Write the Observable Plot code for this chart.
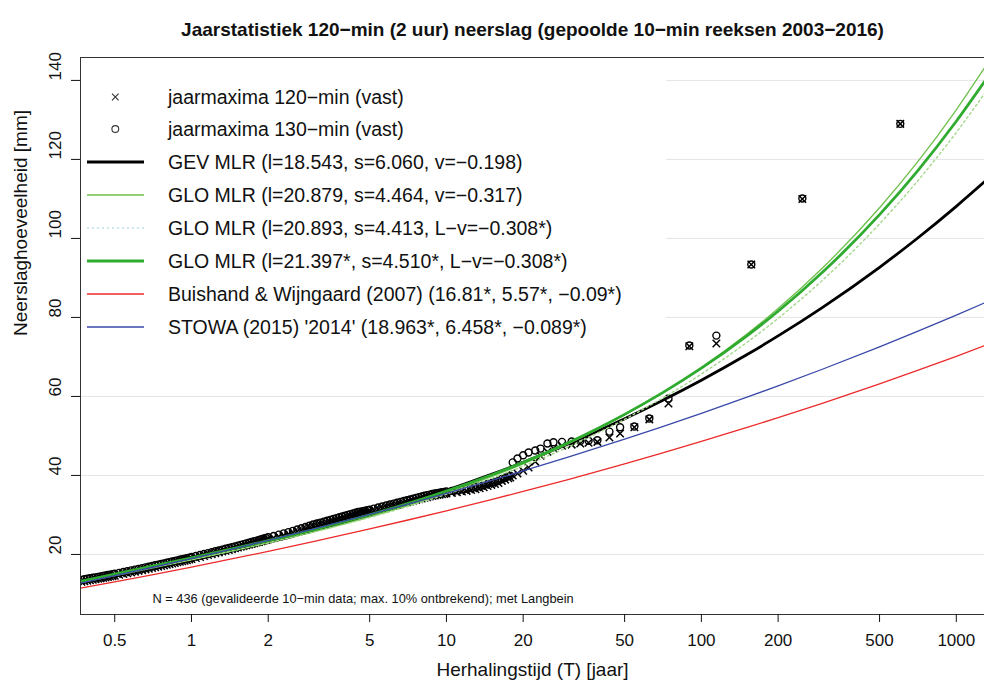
<!DOCTYPE html>
<html><head><meta charset="utf-8">
<script src="https://cdn.jsdelivr.net/npm/d3@7"></script>
<script src="https://cdn.jsdelivr.net/npm/@observablehq/plot@0.6"></script>
<style>
body{margin:0;background:#fff;}
svg{font-family:"Liberation Sans",Arial,Helvetica,sans-serif;}
</style>
</head><body><div id="chart"></div>
<script>
// ---------- texts ----------
const titleText = "Jaarstatistiek 120\u2212min (2 uur) neerslag (gepoolde 10\u2212min reeksen 2003\u22122016)";
const xLabel = "Herhalingstijd (T) [jaar]";
const yLabel = "Neerslaghoeveelheid [mm]";
const footnote = "N = 436 (gevalideerde 10\u2212min data; max. 10% ontbrekend); met Langbein";
const legendLabels = [
  "jaarmaxima 120\u2212min (vast)",
  "jaarmaxima 130\u2212min (vast)",
  "GEV MLR (l=18.543, s=6.060, v=\u22120.198)",
  "GLO MLR (l=20.879, s=4.464, v=\u22120.317)",
  "GLO MLR (l=20.893, s=4.413, L\u2212v=\u22120.308*)",
  "GLO MLR (l=21.397*, s=4.510*, L\u2212v=\u22120.308*)",
  "Buishand & Wijngaard (2007) (16.81*, 5.57*, \u22120.09*)",
  "STOWA (2015) '2014' (18.963*, 6.458*, \u22120.089*)"
];
const xTicks = [0.5, 1, 2, 5, 10, 20, 50, 100, 200, 500, 1000];
const yTicks = [20, 40, 60, 80, 100, 120, 140];

// ---------- fitted curves (mm) at return periods T ----------
const curveT   = [0.367,0.5,0.7,1,1.5,2,3,5,7,10,15,20,30,50,70,100,150,200,300,500,700,1000,1290];
const gevMLR   = [13.03,14.62,16.46,18.54,21.10,23.05,25.98,30.03,32.93,36.22,40.26,43.33,47.96,54.34,58.92,64.11,70.48,75.32,82.62,92.70,99.92,108.12,114.33];
const gloMLR1  = [12.86,14.62,16.56,18.66,21.12,22.95,25.69,29.51,32.30,35.55,39.67,42.91,47.97,55.31,60.82,67.33,75.67,82.26,92.64,107.76,119.11,132.56,143.16];
const gloMLR2  = [12.89,14.66,16.61,18.69,21.13,22.94,25.63,29.36,32.08,35.24,39.22,42.34,47.20,54.22,59.47,65.66,73.55,79.77,89.53,103.70,114.30,126.82,136.64];
const gloMLR3  = [13.21,15.02,17.02,19.15,21.64,23.49,26.24,30.05,32.83,36.06,40.13,43.31,48.28,55.46,60.83,67.15,75.22,81.57,91.55,106.02,116.86,129.66,139.69];
const buishand = [11.47,13.07,14.85,16.81,19.11,20.79,23.24,26.46,28.66,31.06,33.89,35.96,38.97,42.93,45.64,48.60,52.08,54.62,58.33,63.20,66.53,70.17,72.84];
const stowa    = [12.77,14.62,16.70,18.96,21.63,23.58,26.42,30.14,32.68,35.47,38.74,41.13,44.62,49.18,52.31,55.72,59.74,62.68,66.95,72.56,76.40,80.59,83.67];

// ---------- empirical annual maxima (plotting positions T, mm) ----------
const pointT = [
  0.37,0.38,0.39,0.40,0.41,0.42,0.43,0.44,0.45,0.46,0.47,0.48,0.49,
  0.50,0.52,0.54,0.56,0.58,0.60,0.62,0.64,0.66,0.68,0.70,0.72,0.74,0.76,0.78,0.80,0.82,0.84,0.86,0.88,0.90,0.92,0.94,0.96,0.98,
  1.00,1.04,1.08,1.12,1.16,1.20,1.24,1.28,1.32,1.36,1.40,1.44,1.48,1.52,1.56,1.60,1.64,1.68,1.72,1.76,1.80,1.84,1.88,1.92,1.96,
  2.0,2.1,2.2,2.3,2.4,2.5,2.6,2.7,2.8,2.9,3.0,3.1,3.2,3.3,3.4,3.5,3.6,3.7,3.8,3.9,4.0,4.1,4.2,4.3,4.4,4.5,4.6,4.7,4.8,4.9,5.0,
  5.2,5.4,5.6,5.8,6.0,6.2,6.4,6.6,6.8,7.0,7.2,7.4,7.6,7.8,8.0,8.2,8.4,8.6,8.8,9.0,9.2,9.4,9.6,9.8,10.0,
  10.5,11,11.5,12,12.5,13,13.5,14,14.5,15,15.5,16,16.5,17,17.5,17.8,
  18.2,19.0,20.0,21.0,22.3,23.4,24.9,26.3,28.4,31.0,33.5,36.1,39.1,43.6,48.0,54.6,62.5,74.3,89.7,114.5,157,249,603];
const max120 = [
  13.07,13.21,13.34,13.47,13.59,13.71,13.83,13.95,14.07,14.18,14.29,14.40,14.51,
  14.62,14.84,15.05,15.26,15.46,15.66,15.85,16.03,16.23,16.40,16.58,16.75,16.91,17.08,17.24,17.40,17.55,17.70,17.86,18.01,18.15,18.29,18.43,18.57,18.71,
  18.84,19.10,19.35,19.60,19.84,20.07,20.30,20.52,20.73,20.94,21.15,21.35,21.55,21.74,21.93,22.12,22.31,22.49,22.67,22.84,23.01,23.18,23.35,23.52,23.68,
  23.85,24.19,24.51,24.83,25.14,25.48,25.82,26.15,26.46,26.78,27.08,27.33,27.57,27.81,28.03,28.26,28.48,28.69,28.90,29.11,29.31,29.51,29.70,29.89,30.08,30.26,30.34,30.47,30.59,30.71,30.83,
  31.11,31.38,31.64,31.89,32.13,32.36,32.59,32.81,33.02,33.23,33.43,33.63,33.82,34.00,34.18,34.36,34.51,34.65,34.80,34.92,35.03,35.13,35.23,35.33,35.42,
  35.59,35.76,35.93,36.10,36.31,36.53,36.76,37.02,37.32,37.62,37.84,38.10,38.62,38.95,39.30,39.46,
  40.0,40.5,41.2,42.0,43.5,45.0,46.0,46.8,47.5,47.8,48.1,48.3,48.5,49.6,50.6,52.2,54.2,58.2,72.7,73.4,93.4,110.0,129.0];
const max130 = [
  13.57,13.71,13.84,13.97,14.09,14.21,14.33,14.45,14.57,14.68,14.79,14.90,15.01,
  15.12,15.34,15.55,15.76,15.96,16.16,16.35,16.53,16.73,16.90,17.08,17.25,17.41,17.58,17.74,17.90,18.05,18.20,18.36,18.51,18.65,18.79,18.93,19.07,19.21,
  19.34,19.60,19.85,20.10,20.34,20.57,20.80,21.02,21.23,21.44,21.65,21.85,22.05,22.24,22.43,22.62,22.81,22.99,23.17,23.34,23.51,23.68,23.85,24.02,24.18,
  24.35,24.69,25.01,25.33,25.64,25.98,26.32,26.65,26.96,27.28,27.58,27.83,28.07,28.31,28.53,28.76,28.98,29.19,29.40,29.61,29.81,30.01,30.20,30.39,30.58,30.76,30.84,30.97,31.09,31.21,31.33,
  31.61,31.88,32.14,32.39,32.63,32.86,33.09,33.31,33.52,33.73,33.93,34.13,34.32,34.50,34.68,34.86,35.01,35.15,35.30,35.42,35.53,35.63,35.73,35.83,35.92,
  36.09,36.26,36.43,36.60,36.81,37.03,37.26,37.52,37.82,38.12,38.34,38.60,39.12,39.45,39.80,39.96,
  43.3,44.3,45.1,45.8,46.3,46.8,48.1,48.4,48.5,48.6,48.7,48.8,48.9,51.1,52.2,52.4,54.4,59.5,72.9,75.4,93.4,110.1,129.0];

// ---------- build tables ----------
const seriesStyle = [
  {values: gevMLR,   stroke: "#000000", width: 2.8, dash: null},
  {values: gloMLR1,  stroke: "#6cc04a", width: 1.3, dash: null},
  {values: gloMLR2,  stroke: "#a3d88a", width: 1.4, dash: "2,3"},
  {values: gloMLR3,  stroke: "#2fab2f", width: 2.8, dash: null},
  {values: buishand, stroke: "#ec2a2a", width: 1.3, dash: null},
  {values: stowa,    stroke: "#3a48a8", width: 1.3, dash: null}
];
const pts = pointT.map((T, i) => ({T, v120: max120[i], v130: max130[i]}));

const lineMarks = seriesStyle.map(s =>
  Plot.line(curveT.map((T, i) => ({T, v: s.values[i]})), {
    x: "T", y: "v", stroke: s.stroke, strokeWidth: s.width,
    strokeDasharray: s.dash || undefined, curve: "monotone-x", clip: true
  })
);

// legend (pixel layout)
const legRows = [97, 129, 162, 195, 228, 261, 294, 327];
function legendBg(index, scales, values, dims) {
  const g = d3.create("svg:g");
  g.append("rect").attr("x", dims.marginLeft + 1).attr("y", dims.marginTop + 1)
    .attr("width", 585).attr("height", 290).attr("fill", "#fff");
  return g.node();
}
function legendItems(index, scales, values, dims) {
  const g = d3.create("svg:g").attr("font-size", 19.5).attr("fill", "#111").attr("text-anchor", "start");
  legendLabels.forEach((lab, i) => {
    const y = legRows[i];
    if (i === 0) {
      g.append("path").attr("d", `M112,${y-3.3}L118.6,${y+3.3}M118.6,${y-3.3}L112,${y+3.3}`)
        .attr("stroke", "#333").attr("stroke-width", 1.1);
    } else if (i === 1) {
      g.append("circle").attr("cx", 115.3).attr("cy", y).attr("r", 3.4)
        .attr("fill", "none").attr("stroke", "#333").attr("stroke-width", 1.1);
    } else {
      const s = seriesStyle[i - 2];
      g.append("line").attr("x1", 87).attr("x2", 144).attr("y1", y).attr("y2", y)
        .attr("stroke", i === 4 ? "#bfe2e8" : s.stroke).attr("stroke-width", s.width)
        .attr("stroke-dasharray", s.dash);
    }
    g.append("text").attr("x", 168).attr("y", y).attr("dy", "0.36em").attr("text-anchor", "start").text(lab);
  });
  return g.node();
}

const chart = Plot.plot({
  width: 984, height: 686,
  marginTop: 57, marginLeft: 80, marginRight: 0, marginBottom: 72,
  style: {fontFamily: "'Liberation Sans', Arial, sans-serif", fontSize: "17px", color: "#111", background: "#fff"},
  x: {type: "log", domain: [0.367, 1290]},
  y: {domain: [4.8, 145.8]},
  marks: [
    Plot.ruleY(yTicks, {stroke: "#e4e4e4", strokeWidth: 1}),
    legendBg,
    Plot.dot(pts, {x: "T", y: "v120", symbol: "times", r: 3.5, stroke: "#000", strokeWidth: 1.5, clip: true}),
    Plot.dot(pts, {x: "T", y: "v130", symbol: "circle", r: 3.5, fill: "none", stroke: "#000", strokeWidth: 1.4, clip: true}),
    ...lineMarks,
    Plot.frame({stroke: "#333", strokeWidth: 1}),
    Plot.axisX({ticks: xTicks, tickSize: 8, tickFormat: () => "", label: null}),
    Plot.text(xTicks, {x: d => d, frameAnchor: "bottom", dy: 31, text: d => String(d), fontSize: 17}),
    Plot.axisY({ticks: yTicks, tickSize: 9, tickFormat: () => "", label: null}),
    Plot.text(yTicks, {y: d => d, frameAnchor: "left", dx: -25, rotate: -90, text: d => String(d), fontSize: 17}),
    Plot.text([titleText], {frameAnchor: "top", dy: -35, fontWeight: "bold", fontSize: 19}),
    Plot.text([xLabel], {frameAnchor: "bottom", dy: 61, fontSize: 19}),
    Plot.text([yLabel], {frameAnchor: "left", dx: -60, rotate: -90, fontSize: 19}),
    Plot.text([footnote], {frameAnchor: "bottom-left", dx: 72, dy: -12, textAnchor: "start", fontSize: 12.8}),
    legendItems
  ]
});
document.getElementById("chart").appendChild(chart);
</script>
</body></html>
